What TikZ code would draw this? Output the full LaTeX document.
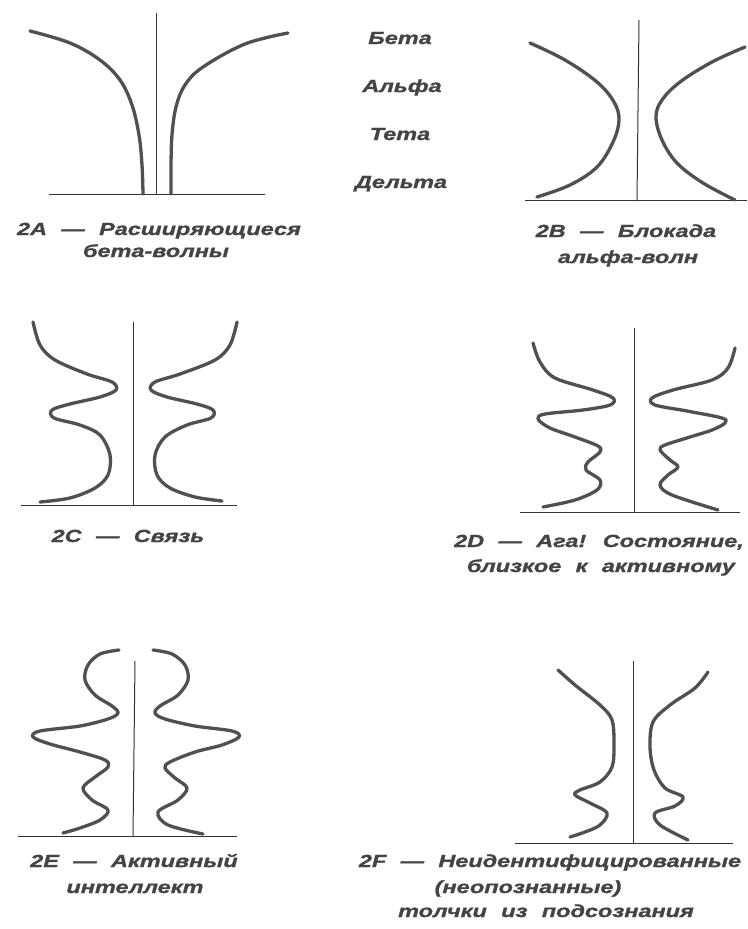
\documentclass[tikz,border=0pt]{standalone}
\usepackage{fontspec}
\newfontfamily\labfont[FakeStretch=1.34,WordSpace=2.2,FakeBold=1.2]{Liberation Sans}
\definecolor{wavegray}{HTML}{505050}
\definecolor{axisgray}{HTML}{333333}
\definecolor{txtgray}{HTML}{444444}
\tikzset{
  wave/.style={line width=3.3pt,color=wavegray,line cap=round,line join=round},
  axisline/.style={line width=1pt,color=axisgray},
  lab/.style={font=\labfont\bfseries\itshape\fontsize{17.5}{25}\selectfont,text=txtgray,inner sep=0pt,anchor=base}
}
\begin{document}
\begin{tikzpicture}[x=1pt,y=-1pt]
\useasboundingbox[fill=white] (0,0) rectangle (747,929);
% ---- 2A
\draw[axisline] (156,13) -- (156,194);
\draw[axisline] (49,194.5) -- (265,194.5);
\draw[wave] plot[smooth,tension=0.6] coordinates {(30,31) (70,43) (100,60) (120,80) (132,105) (139,135) (142,165) (143,194)};
\draw[wave] plot[smooth,tension=0.6] coordinates {(288,33) (245,44) (203,67) (185,85) (176,107) (172,135) (171,165) (171,194)};
\node[lab] (a1) at (159,235) {2A — Расширяющиеся};
\node[lab] (a2) at (156,257) {бета-волны};
% ---- band labels
\node[lab] (beta) at (400,44) {Бета};
\node[lab] (alpha) at (402,92) {Альфа};
\node[lab] (theta) at (400,140) {Тета};
\node[lab] (delta) at (401,188) {Дельта};
% ---- 2B
\draw[axisline] (639,20) -- (637,201);
\draw[axisline] (525,200) -- (747,200);
\draw[wave] plot[smooth,tension=0.6] coordinates {(530,43) (565,60) (597,82) (614,102) (619,120) (613,142) (597,167) (570,185) (537,197)};
\draw[wave] plot[smooth,tension=0.6] coordinates {(745,47) (712,62) (680,82) (662,100) (656,117) (662,140) (677,163) (703,183) (735,200)};
\node[lab] (b1) at (626,237) {2B — Блокада};
\node[lab] (b2) at (628,263) {альфа-волн};
% ---- 2C
\draw[axisline] (133,322) -- (133,505);
\draw[axisline] (21,505) -- (237,505);
\draw[wave] plot[smooth,tension=0.55] coordinates {(33,322) (40,345) (55,360) (87,374) (112,382) (116,390) (100,397) (70,404) (52,410) (54,418) (80,425) (100,435) (110,455) (108,475) (95,488) (70,498) (40,502)};
\draw[wave] plot[smooth,tension=0.55] coordinates {(237,322) (230,345) (215,360) (180,374) (155,382) (151,390) (167,397) (197,404) (213,410) (211,418) (187,425) (165,437) (155,455) (157,475) (170,488) (195,497) (222,501)};
\node[lab] (c1) at (128,542) {2C — Связь};
% ---- 2D
\draw[axisline] (634,328) -- (634,513);
\draw[axisline] (520,512) -- (740,512);
\draw[wave] plot[smooth,tension=0.55] coordinates {(533,343) (540,362) (555,378) (593,390) (613,398) (610,405) (583,410) (545,414) (538,419) (550,428) (575,437) (598,446) (600,452) (588,462) (586,470) (600,480) (597,490) (575,500) (543,507)};
\draw[wave] plot[smooth,tension=0.55] coordinates {(735,348) (728,368) (712,380) (673,390) (652,398) (655,405) (687,411) (722,418) (725,423) (712,430) (690,437) (665,445) (660,450) (670,460) (678,467) (668,475) (660,485) (672,495) (718,510)};
\node[lab] (d1) at (599,547) {2D — Ага! Состояние,};
\node[lab] (d2) at (601,572) {близкое к активному};
% ---- 2E
\draw[axisline] (135,661) -- (133,837);
\draw[axisline] (18,836) -- (237,836);
\draw[wave] plot[smooth,tension=0.55] coordinates {(119,650) (100,654) (88,665) (85,680) (95,695) (112,706) (118,713) (108,719) (80,726) (40,731) (33,737) (50,744) (80,752) (105,760) (108,767) (95,777) (83,788) (92,800) (108,810) (100,820) (80,828) (63,833)};
\draw[wave] plot[smooth,tension=0.55] coordinates {(153,650) (172,654) (185,665) (188,680) (178,695) (160,706) (155,713) (165,719) (195,726) (232,731) (239,737) (222,745) (195,752) (170,762) (165,768) (175,778) (187,788) (178,800) (158,812) (168,825) (203,834)};
\node[lab] (e1) at (134,867) {2E — Активный};
\node[lab] (e2) at (135,893) {интеллект};
% ---- 2F
\draw[axisline] (633,661) -- (633,843);
\draw[axisline] (515,843) -- (733,843);
\draw[wave] plot[smooth,tension=0.55] coordinates {(558,670) (575,685) (600,705) (612,720) (614,745) (612,767) (600,782) (580,790) (575,795) (590,803) (607,813) (600,825) (585,832) (570,837)};
\draw[wave] plot[smooth,tension=0.55] coordinates {(708,672) (695,688) (670,705) (653,722) (650,747) (654,770) (665,788) (683,797) (675,806) (655,813) (660,825) (688,840)};
\node[lab] (f1) at (550,867) {2F — Неидентифицированные};
\node[lab] (f2) at (528,893) {(неопознанные)};
\node[lab] (f3) at (546,917) {толчки из подсознания};
\end{tikzpicture}
\end{document}
